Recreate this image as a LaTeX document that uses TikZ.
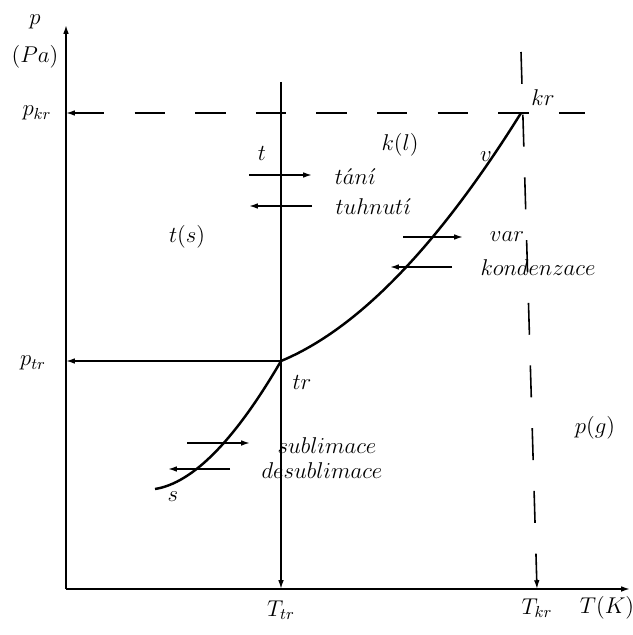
\RequirePackage{fix-cm}
\documentclass[tikz,border=0pt]{standalone}
\usepackage{tikz}
\usetikzlibrary{arrows.meta}

\begin{document}
\begin{tikzpicture}[x=0.02cm, y=-0.02cm,
    lbl/.style={font=\fontsize{13}{15}\selectfont, inner sep=0pt},
    axis/.style={line width=0.9pt, -{Latex[length=5pt,width=3.2pt]}},
    level/.style={line width=0.9pt, {Latex[length=5pt,width=3.2pt]}-},
    trans/.style={line width=0.9pt, -{Latex[length=5pt,width=3.2pt]}},
    phase/.style={line width=1.4pt}]
  \useasboundingbox (0,0) rectangle (632,635);

  %--- Key points ---
  \coordinate (O) at (66,589);
  \coordinate (ytop) at (66,25);
  \coordinate (xend) at (630,589);
  \coordinate (tr) at (281,361);
  \coordinate (kr) at (521,113);
  \coordinate (s) at (155,489);
  \coordinate (pkr) at (66,113);
  \coordinate (krend) at (585,113);
  \coordinate (ptr) at (66,361);
  \coordinate (Ttrtop) at (281,82);
  \coordinate (Ttr) at (281,589);
  \coordinate (Tkrtop) at (521,52);
  \coordinate (Tkr) at (537,589);

  % Axes
  \draw[axis] (O) -- (ytop);
  \draw[axis] (O) -- (xend);

  % Triple point and critical point levels
  \draw[level, dash pattern=on 17.3pt off 17.2pt] (pkr) -- (krend);
  \draw[trans, dash pattern=on 18.2pt off 17.5pt] (Tkrtop) -- (Tkr);
  \draw[level] (ptr) -- (tr);
  \draw[trans] (Ttrtop) -- (Ttr);

  % Phase boundary curves
  \draw[phase] (s) .. controls (193,483) and (235,440) .. (tr);
  \draw[phase] (tr) .. controls (358,329) and (438,246) .. (kr);

  %--- Transition arrows ---
  \coordinate (tani0) at (249,175);   \coordinate (tani1) at (312,175);
  \coordinate (tuhn0) at (312,206);   \coordinate (tuhn1) at (249,206);
  \coordinate (var0) at (403,237);    \coordinate (var1) at (463,237);
  \coordinate (kond0) at (452,267);   \coordinate (kond1) at (390,267);
  \coordinate (subl0) at (187,443);   \coordinate (subl1) at (250,443);
  \coordinate (desub0) at (230,469);  \coordinate (desub1) at (168,469);
  \draw[trans] (tani0) -- (tani1);
  \draw[trans] (tuhn0) -- (tuhn1);
  \draw[trans] (var0) -- (var1);
  \draw[trans] (kond0) -- (kond1);
  \draw[trans] (subl0) -- (subl1);
  \draw[trans] (desub0) -- (desub1);

  %--- Axis labels ---
  \node[lbl] (plab) at (35,22) {$p$};
  \node[lbl] (punit) at (35,57) {$(Pa)$};
  \node[lbl] (pkrlab) at (37,113) {$p_{kr}$};
  \node[lbl] (ptrlab) at (33,363) {$p_{tr}$};
  \node[lbl] (Ttrlab) at (281,610) {$T_{tr}$};
  \node[lbl] (Tkrlab) at (537,608) {$T_{kr}$};
  \node[lbl] (Tlab) at (607,608) {$T(K)$};

  %--- Region and point labels ---
  \node[lbl] (krlab) at (543,98) {$kr$};
  \node[lbl] (liquid) at (400,145) {$k(l)$};
  \node[lbl] (tlab) at (262,153) {$t$};
  \node[lbl] (solid) at (187,237) {$t(s)$};
  \node[lbl] (vlab) at (486,157) {$v$};
  \node[lbl] (trlab) at (302,382) {$tr$};
  \node[lbl] (slab) at (173,497) {$s$};
  \node[lbl] (gas) at (595,428) {$p(g)$};

  % Transition names
  \node[lbl] (tani) at (355,177) {$t\acute{a}n\acute{\imath}$};
  \node[lbl] (tuhnuti) at (373,207) {$tuhnut\acute{\imath}$};
  \node[lbl] (var) at (507,237) {$var$};
  \node[lbl] (kondenzace) at (538,268) {$kondenzace$};
  \node[lbl] (sublimace) at (327,446) {$sublimace$};
  \node[lbl] (desublimace) at (322,471) {$desublimace$};
\end{tikzpicture}
\end{document}
